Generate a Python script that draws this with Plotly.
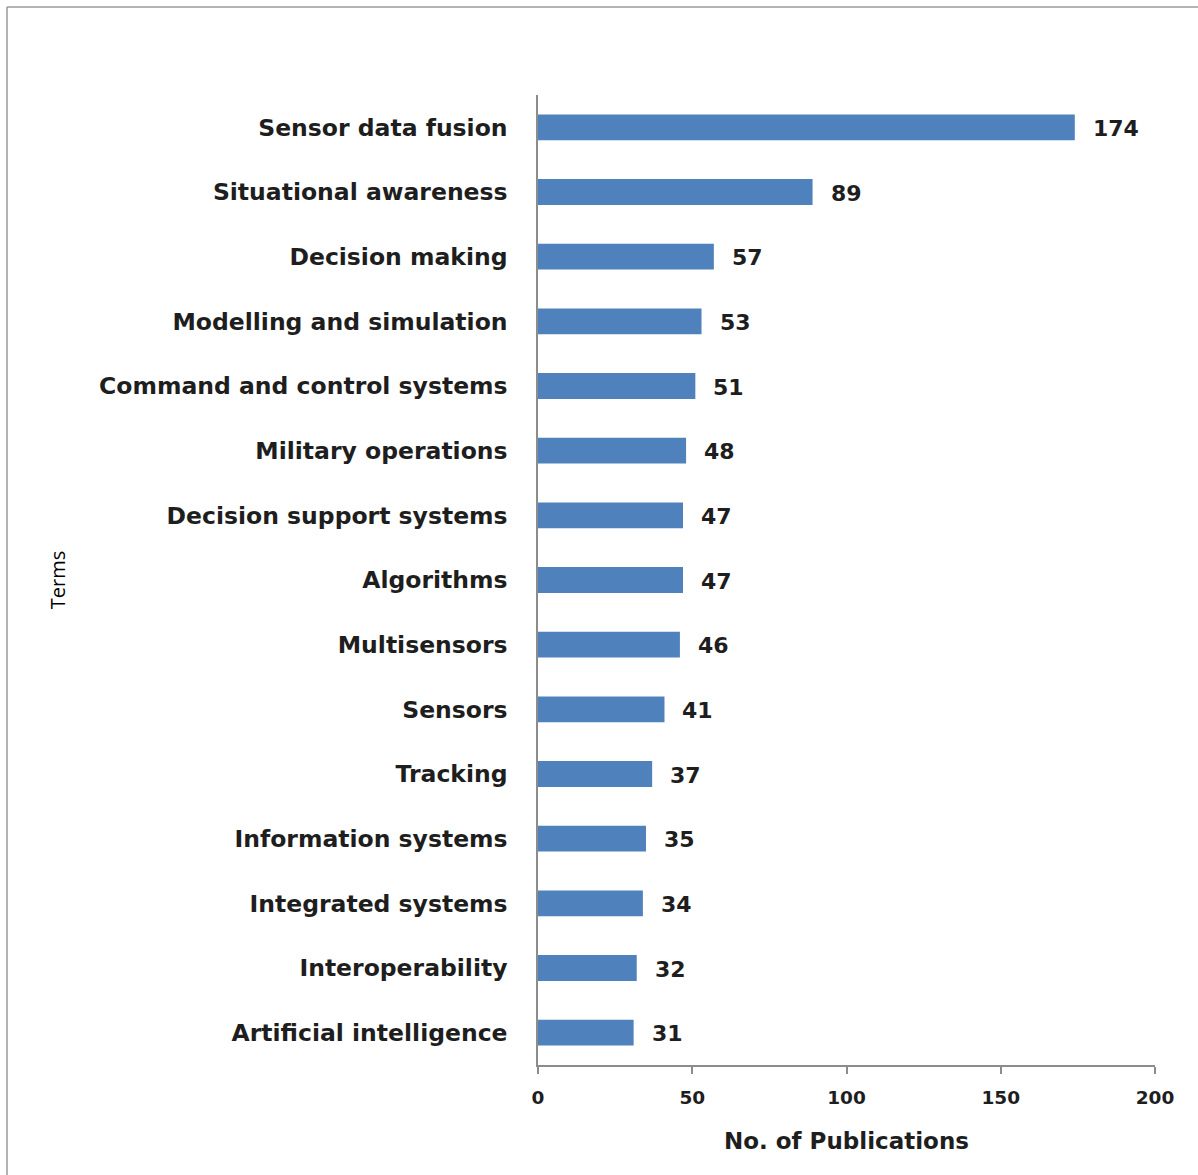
import plotly.graph_objects as go

# Publication counts per search term (top of list first)
terms = [
    "Sensor data fusion", "Situational awareness", "Decision making",
    "Modelling and simulation", "Command and control systems",
    "Military operations", "Decision support systems", "Algorithms",
    "Multisensors", "Sensors", "Tracking", "Information systems",
    "Integrated systems", "Interoperability", "Artificial intelligence",
]
publications = [174, 89, 57, 53, 51, 48, 47, 47, 46, 41, 37, 35, 34, 32, 31]
x_ticks = [0, 50, 100, 150, 200]

BAR_COLOR = "#4F81BD"
AXIS_COLOR = "#8C8C8C"
TEXT_COLOR = "#1e1e1e"
BOLD_FONT = "DejaVu Sans"
PLAIN_FONT = "Open Sans"

fig = go.Figure(
    go.Bar(
        x=publications,
        y=terms,
        orientation="h",
        marker=dict(color=BAR_COLOR, line=dict(width=0)),
        hoverinfo="skip",
    )
)

# Value labels just past each bar end
for term, val in zip(terms, publications):
    fig.add_annotation(
        x=val, y=term, xref="x", yref="y",
        text=f"<b>{val}</b>", showarrow=False,
        xanchor="left", yanchor="middle", xshift=16, yshift=-1,
        font=dict(family=BOLD_FONT, size=22, color=TEXT_COLOR),
    )

fig.update_layout(
    width=1198, height=1175,
    margin=dict(l=538, r=43, t=95, b=110),
    paper_bgcolor="white", plot_bgcolor="white",
    bargap=0.6,
    showlegend=False,
    font=dict(family=BOLD_FONT, color=TEXT_COLOR),
    xaxis=dict(
        range=[0, 200], tickvals=x_ticks, ticktext=[f"<b>{v}</b>" for v in x_ticks],
        showgrid=False, zeroline=False,
        showline=True, linecolor=AXIS_COLOR, linewidth=1.5,
        ticks="outside", ticklen=7, tickcolor=AXIS_COLOR, tickwidth=1.5,
        tickfont=dict(size=18.5, family=BOLD_FONT), ticklabelstandoff=8,
        title=dict(text="<b>No. of Publications</b>",
                   font=dict(size=23, family=BOLD_FONT), standoff=26),
    ),
    yaxis=dict(
        autorange="reversed",
        tickvals=terms, ticktext=[f"<b>{t}</b>" for t in terms],
        showgrid=False, zeroline=False,
        showline=True, linecolor=AXIS_COLOR, linewidth=1.5,
        ticks="", tickfont=dict(size=23.5, family=BOLD_FONT), ticklabelstandoff=24,
        title=dict(text="Terms", font=dict(size=20, family=PLAIN_FONT, color="#000"),
                   standoff=28),
    ),
)

# Frame edges along the top and left of the figure
PW, PH = 617, 970  # plot area size in px
fig.add_shape(
    type="line", xref="paper", yref="paper",
    x0=-531 / PW, x1=1 + 43 / PW, y0=1 + 88 / PH, y1=1 + 88 / PH,
    line=dict(color="#b4b4b4", width=2), layer="below",
)
fig.add_shape(
    type="line", xref="paper", yref="paper",
    x0=-531 / PW, x1=-531 / PW, y0=1 + 88 / PH, y1=-110 / PH,
    line=dict(color="#9a9a9a", width=1.5), layer="below",
)

fig.write_html("out.html")
